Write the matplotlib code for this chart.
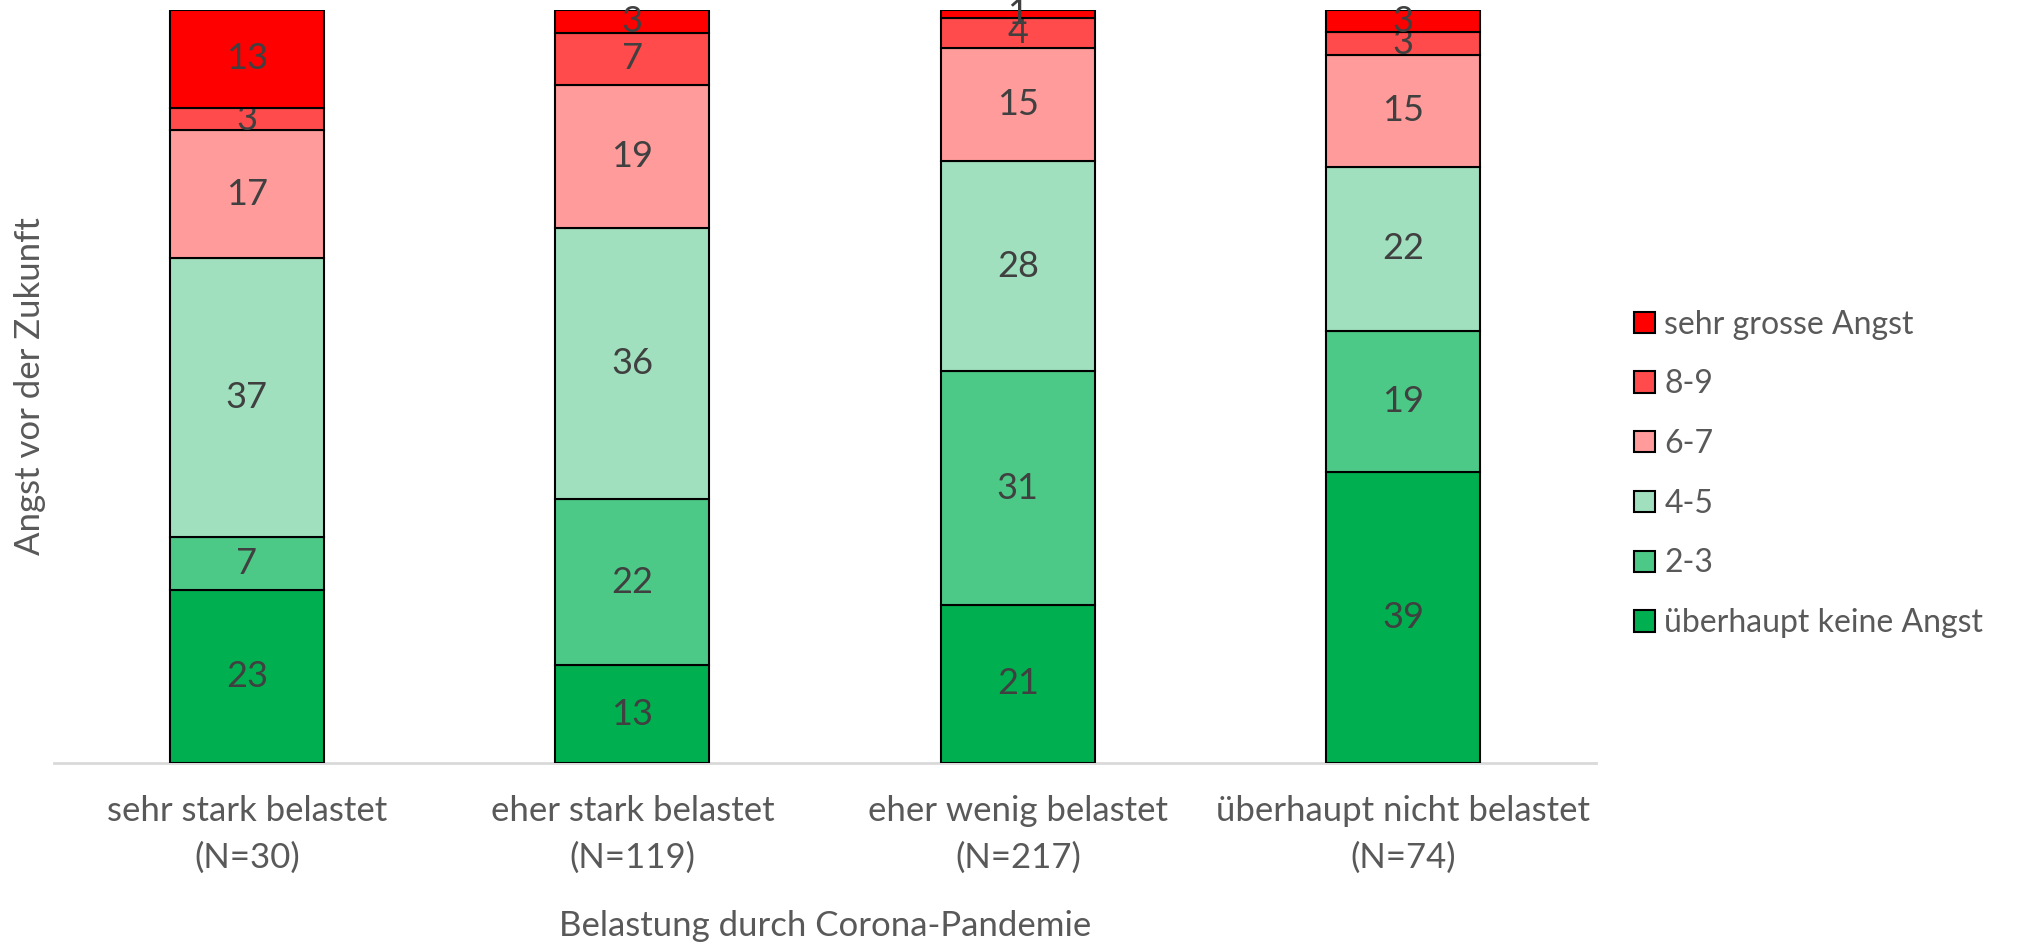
import numpy as np
import matplotlib.pyplot as plt

plt.rcParams['font.family'] = ['Lato', 'DejaVu Sans']

groups = ['sehr stark belastet\n(N=30)', 'eher stark belastet\n(N=119)',
          'eher wenig belastet\n(N=217)', 'überhaupt nicht belastet\n(N=74)']

# categories from bottom to top of each stack
levels = ['überhaupt keine Angst', '2-3', '4-5', '6-7', '8-9', 'sehr grosse Angst']
colors = ['#00B050', '#4DC987', '#A0E0BE', '#FF9B9B', '#FF4B4B', '#FF0000']

# percent per group, same order as levels
keine = [23, 13, 21, 39]
v23 = [7, 22, 31, 19]
v45 = [37, 36, 28, 22]
v67 = [17, 19, 15, 15]
v89 = [3, 7, 4, 3]
gross = [13, 3, 1, 3]

values = np.array([keine, v23, v45, v67, v89, gross], dtype=float)
# 100 % stacked: rounded labels do not always add up to 100
shares = values / values.sum(axis=0) * 100

fig = plt.figure(figsize=(20.24, 9.43), dpi=100)
ax = fig.add_axes([0.0267, 0.1909, 0.7619, 0.7985])

x = np.arange(len(groups))
bottom = np.zeros(len(groups))
for i, lev in enumerate(levels):
    bars = ax.bar(x, shares[i], 0.4, bottom=bottom, color=colors[i],
                  edgecolor='black', linewidth=1.5, label=lev, zorder=3)
    ax.bar_label(bars, labels=[f'{v:.0f}' for v in values[i]],
                 label_type='center', color='#404040', fontsize=26)
    bottom += shares[i]

ax.set_xlim(-0.5, len(groups) - 0.5)
ax.set_ylim(0, 100)
ax.set_yticks([])
ax.set_xticks(x)
ax.set_xticklabels(groups, fontsize=25, color='#595959', linespacing=1.55)
ax.tick_params(axis='x', length=0, pad=23)
for side in ['top', 'right', 'left']:
    ax.spines[side].set_visible(False)
ax.spines['bottom'].set_color('#D9D9D9')
ax.spines['bottom'].set_linewidth(2)

ax.set_xlabel('Belastung durch Corona-Pandemie', fontsize=25,
              color='#595959', labelpad=26)
ax.set_ylabel('Angst vor der Zukunft', fontsize=25, color='#595959',
              labelpad=6)

handles, labels = ax.get_legend_handles_labels()
ax.legend(handles[::-1], labels[::-1], loc='center left',
          bbox_to_anchor=(1.006, 0.384), frameon=False, fontsize=23,
          labelcolor='#595959', handlelength=0.65, handleheight=0.65,
          handletextpad=0.3, labelspacing=0.93)

fig.savefig('out.png', dpi=100)
